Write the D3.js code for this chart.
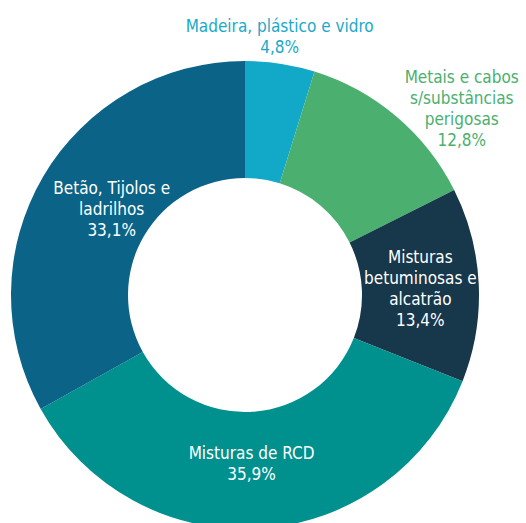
<!DOCTYPE html>
<html>
<head>
    <meta charset="utf-8">
    <script src="https://d3js.org/d3.v7.min.js"></script>
    <style>
        body { margin: 0; background: #fff; }
        .lbl { font-family: "DejaVu Sans Condensed", "DejaVu Sans", sans-serif; font-size: 17px; }
    </style>
</head>
<body>
    <svg width="526" height="523"></svg>
    <script>
        // data
        const categories = ["Madeira, plástico e vidro", "Metais e cabos s/substâncias perigosas",
                            "Misturas betuminosas e alcatrão", "Misturas de RCD", "Betão, Tijolos e ladrilhos"];
        const values = [4.8, 12.8, 13.4, 35.9, 33.1];
        const valueLabels = ["4,8%", "12,8%", "13,4%", "35,9%", "33,1%"];
        const labelLines = [
            ["Madeira, plástico e vidro"],
            ["Metais e cabos", "s/substâncias", "perigosas"],
            ["Misturas", "betuminosas e", "alcatrão"],
            ["Misturas de RCD"],
            ["Betão, Tijolos e", "ladrilhos"]
        ];

        const colors = ["#12a9c8", "#4bb06f", "#17374b", "#00918f", "#0b6487"];
        const textColors = ["#1ba9c9", "#4bb06f", "#fff", "#fff", "#fff"];
        // label radius (fraction of outer) and small nudges
        const labelR = [1.1, 1.22, 0.75, 0.75, 0.75];
        const nudge = [[-4, -4], [32, 31], [0, 1], [-5, -7], [18, 3]];

        const cx = 245, cy = 295, outerR = 234, innerR = 117;
        const svg = d3.select("svg");
        const g = svg.append("g").attr("transform", `translate(${cx},${cy})`);

        const pie = d3.pie().sort(null).value(d => d);
        const arcs = pie(values);
        const arc = d3.arc().innerRadius(innerR).outerRadius(outerR);

        g.selectAll("path.slice")
            .data(arcs)
            .enter().append("path")
            .attr("class", "slice")
            .attr("d", arc)
            .attr("fill", (d, i) => colors[i]);

        const lineH = 21;
        arcs.forEach((d, i) => {
            const a = (d.startAngle + d.endAngle) / 2;
            const r = labelR[i] * outerR;
            const x = r * Math.sin(a) + nudge[i][0];
            const y = -r * Math.cos(a) + nudge[i][1];
            const lines = labelLines[i].concat([valueLabels[i]]);
            const y0 = y - (lines.length - 1) * lineH / 2 + 6;
            const t = g.append("text")
                .attr("class", "lbl")
                .attr("text-anchor", "middle")
                .attr("fill", textColors[i]);
            lines.forEach((s, k) => {
                t.append("tspan").attr("x", x).attr("y", y0 + k * lineH).text(s);
            });
        });
    </script>
</body>
</html>
